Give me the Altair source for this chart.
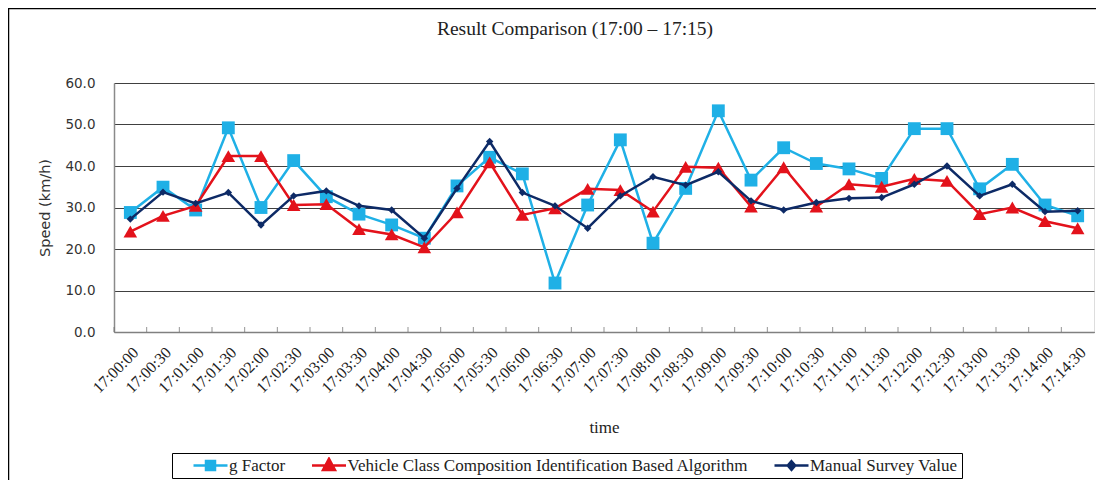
import altair as alt
import pandas as pd

times = ["17:00:00", "17:00:30", "17:01:00", "17:01:30", "17:02:00", "17:02:30",
         "17:03:00", "17:03:30", "17:04:00", "17:04:30", "17:05:00", "17:05:30",
         "17:06:00", "17:06:30", "17:07:00", "17:07:30", "17:08:00", "17:08:30",
         "17:09:00", "17:09:30", "17:10:00", "17:10:30", "17:11:00", "17:11:30",
         "17:12:00", "17:12:30", "17:13:00", "17:13:30", "17:14:00", "17:14:30"]

g_factor = [28.8, 34.9, 29.4, 49.2, 30.0, 41.3, 32.6, 28.4, 25.8, 22.6,
            35.2, 42.1, 38.1, 11.8, 30.6, 46.3, 21.4, 34.6, 53.3, 36.6,
            44.4, 40.6, 39.3, 37.0, 49.0, 49.0, 34.5, 40.4, 30.6, 28.0]

vcci = [24.2, 28.0, 30.4, 42.4, 42.4, 30.6, 30.8, 24.8, 23.5, 20.4,
        28.8, 40.9, 28.2, 29.8, 34.5, 34.2, 29.0, 39.8, 39.6, 30.2,
        39.7, 30.2, 35.6, 35.0, 36.9, 36.4, 28.4, 30.0, 26.7, 25.0]

manual = [27.2, 33.7, 31.0, 33.6, 25.8, 32.8, 34.0, 30.4, 29.4, 22.6,
          34.6, 45.9, 33.6, 30.4, 25.0, 32.8, 37.4, 35.4, 38.6, 31.6,
          29.4, 31.2, 32.2, 32.4, 35.6, 40.0, 32.8, 35.6, 29.0, 29.2]

series_names = ["g Factor",
                "Vehicle Class Composition Identification Based Algorithm",
                "Manual Survey Value"]
series_values = [g_factor, vcci, manual]
series_colors = ["#1fb0e6", "#e3121b", "#0d2a66"]
series_shapes = ["square", "triangle-up", "diamond"]
series_sizes = [165, 185, 55]
legend_paths = [
    "M-0.36,0H1M0.14,-0.18H0.5V0.18H0.14Z",
    "M-0.36,0H1M0.32,-0.27L0.56,0.18H0.08Z",
    "M-0.36,0H1M0.32,-0.17L0.47,0L0.32,0.17L0.17,0Z",
]

rows = []
for name, vals in zip(series_names, series_values):
    for t, v in zip(times, vals):
        rows.append({"time": t, "speed": v, "series": name})
df = pd.DataFrame(rows)

W, H = 980, 249

x_scale = alt.Scale(type="band", domain=times, paddingInner=0, paddingOuter=0)
x_axis = alt.Axis(
    title="time", titleFont="Liberation Serif", titleFontSize=17,
    titleFontWeight="normal", titleColor="#222", titleY=100,
    titleBaseline="alphabetic",
    labelAngle=315, labelFont="Liberation Serif", labelFontSize=16,
    labelColor="#222", labelPadding=12, labelOverlap=False,
    ticks=False, domainColor="#808080", domainWidth=1.5, grid=False,
)
y_scale = alt.Scale(domain=[0, 60], nice=False, zero=True)
y_axis = alt.Axis(
    values=[0, 10, 20, 30, 40, 50, 60], format=".1f",
    grid=True, gridColor="#404040", gridWidth=1,
    domainColor="#8a8a8a", domainWidth=1.5, ticks=False,
    labelFont="DejaVu Sans", labelFontSize=13.5, labelColor="#333",
    labelPadding=19,
    title="Speed (km/h)", titleFont="DejaVu Sans", titleFontSize=14.5,
    titleFontWeight="normal", titleColor="#333",
    titleX=-69, titleY=H / 2, titleAngle=270,
    titleBaseline="middle", titleAlign="center",
)
color_scale = alt.Scale(domain=series_names, range=series_colors)

shape_expr = "datum.value === '%s' ? '%s' : (datum.value === '%s' ? '%s' : '%s')" % (
    series_names[0], legend_paths[0], series_names[1], legend_paths[1], legend_paths[2])
color_expr = "scale('color', datum.value)"

legend = alt.Legend(
    title=None, orient="none", legendX=58, legendY=370,
    direction="horizontal", strokeColor="#000", fillColor="white",
    padding=4, columnPadding=8.5, labelLimit=0,
    labelFont="Liberation Serif", labelFontSize=17, labelColor="#222",
    labelOffset=0, clipHeight=17, symbolSize=2500, symbolStrokeWidth=2.5,
    symbolType=alt.ExprRef(expr=shape_expr),
    symbolFillColor=alt.ExprRef(expr=color_expr),
    symbolStrokeColor=alt.ExprRef(expr=color_expr),
    symbolOpacity=1,
)

layers = []

# outer frame (decorative)
frame = pd.DataFrame({"a": [0]})
layers.append(alt.Chart(frame).mark_rule(color="#000", strokeWidth=1.5).encode(
    x=alt.value(-105.5), y=alt.value(-76), y2=alt.value(H + 150)))
layers.append(alt.Chart(frame).mark_rule(color="#000", strokeWidth=1.5).encode(
    x=alt.value(-106), x2=alt.value(W + 10), y=alt.value(-74.5)))

x_enc = alt.X("time:N", scale=x_scale, axis=x_axis, sort=times)
y_enc = alt.Y("speed:Q", scale=y_scale, axis=y_axis)

for i, name in enumerate(series_names):
    d = df[df["series"] == name]
    line = alt.Chart(d).mark_line(strokeWidth=2.5).encode(
        x=x_enc, y=y_enc,
        color=alt.Color("series:N", scale=color_scale,
                        legend=legend if i == 0 else None),
    )
    pts = alt.Chart(d).mark_point(shape=series_shapes[i], filled=True,
                                  size=series_sizes[i], opacity=1).encode(
        x=x_enc, y=y_enc,
        color=alt.Color("series:N", scale=color_scale, legend=None),
    )
    layers += [line, pts]

ticks = alt.Chart(pd.DataFrame({"time": times})).mark_tick(
    orient="vertical", size=5, thickness=1, color="#666", yOffset=-2.5
).encode(
    x=alt.X("time:N", scale=x_scale, axis=x_axis, sort=times, bandPosition=0),
    y=alt.Y(datum=0, type="quantitative", scale=y_scale, axis=y_axis),
)
layers.append(ticks)

chart = alt.layer(*layers).properties(
    width=W, height=H,
    autosize=alt.AutoSizeParams(type="none"),
    padding={"left": 106, "top": 75, "right": 2, "bottom": 148},
    title=alt.Title("Result Comparison (17:00 \u2013 17:15)",
                    font="Liberation Serif", fontSize=19.5, fontWeight="normal",
                    color="#222", anchor="middle", dx=-29, offset=-48,
                    baseline="alphabetic"),
).configure_view(stroke="#999", strokeWidth=1.5).configure(background="white")

chart.save("out.html", embed_options={"renderer": "svg", "actions": False})
